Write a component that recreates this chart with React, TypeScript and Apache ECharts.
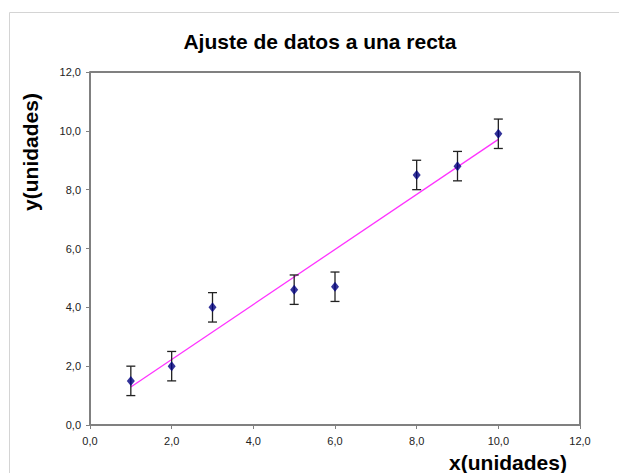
import React, { useEffect, useRef } from "react";
import * as echarts from "echarts";

const xValues = [1, 2, 3, 5, 6, 8, 9, 10];
const yValues = [1.5, 2.0, 4.0, 4.6, 4.7, 8.5, 8.8, 9.9];
const yErrors = [0.5, 0.5, 0.5, 0.5, 0.5, 0.5, 0.5, 0.5];
const fitLine = [
  [1, 1.29],
  [10, 9.71],
];
const titleText = "Ajuste de datos a una recta";
const xLabel = "x(unidades)";
const yLabel = "y(unidades)";

const FONT = "'Liberation Sans', Arial, sans-serif";
const fmt = (v: number) => v.toFixed(1).replace(".", ",");

export default function App() {
  const ref = useRef<HTMLDivElement>(null);
  useEffect(() => {
    if (!ref.current) return;
    const chart = echarts.init(ref.current, null, { renderer: "svg" });
    const points = xValues.map((x, i) => [x, yValues[i]]);
    const errData = xValues.map((x, i) => [x, yValues[i] - yErrors[i], yValues[i] + yErrors[i]]);
    chart.setOption({
      animation: false,
      backgroundColor: "#ffffff",
      grid: { left: 90, right: 39, top: 72, bottom: 48 },
      graphic: [
        {
          type: "rect",
          shape: { x: 9.5, y: 12.5, width: 640, height: 500 },
          style: { fill: "none", stroke: "#d4d4d4", lineWidth: 1 },
          silent: true,
          z: -1,
        },
        {
          type: "text",
          x: 320,
          y: 41,
          style: {
            text: titleText,
            font: `bold 21px ${FONT}`,
            fill: "#000",
            align: "center",
            verticalAlign: "middle",
          },
        },
        {
          type: "text",
          x: 30,
          y: 152,
          rotation: Math.PI / 2,
          style: {
            text: yLabel,
            font: `bold 21px ${FONT}`,
            fill: "#000",
            align: "center",
            verticalAlign: "middle",
          },
        },
        {
          type: "text",
          x: 508,
          y: 462,
          style: {
            text: xLabel,
            font: `bold 21px ${FONT}`,
            fill: "#000",
            align: "center",
            verticalAlign: "middle",
          },
        },
      ],
      xAxis: {
        type: "value",
        min: 0,
        max: 12,
        interval: 2,
        axisLine: { show: true, onZero: false, lineStyle: { color: "#808080", width: 2 } },
        axisTick: { show: true, length: 4, lineStyle: { color: "#808080" } },
        axisLabel: { formatter: fmt, color: "#222", fontSize: 11, fontFamily: FONT, margin: 10 },
        splitLine: { show: false },
      },
      yAxis: {
        type: "value",
        min: 0,
        max: 12,
        interval: 2,
        axisLine: { show: true, onZero: false, lineStyle: { color: "#808080", width: 2 } },
        axisTick: { show: true, length: 4, lineStyle: { color: "#808080" } },
        axisLabel: { formatter: fmt, color: "#222", fontSize: 11, fontFamily: FONT, margin: 9 },
        splitLine: { show: false },
      },
      series: [
        {
          type: "custom",
          data: [[0, 12, 12, 12], [12, 0, 12, 12]],
          renderItem: (params: any, api: any) => {
            const a = api.coord([api.value(0), api.value(1)]);
            const b = api.coord([api.value(2), api.value(3)]);
            return {
              type: "line",
              shape: { x1: a[0], y1: a[1], x2: b[0], y2: b[1] },
              style: { stroke: "#808080", lineWidth: 2 },
            };
          },
          silent: true,
          z: 1,
        },
        {
          type: "line",
          data: fitLine,
          symbol: "none",
          lineStyle: { color: "#ff33ff", width: 1.3 },
          z: 2,
        },
        {
          type: "custom",
          data: errData,
          renderItem: (params: any, api: any) => {
            const x = api.value(0);
            const lo = api.coord([x, api.value(1)]);
            const hi = api.coord([x, api.value(2)]);
            const w = 4.5;
            const st = { stroke: "#222", lineWidth: 1.3 };
            return {
              type: "group",
              children: [
                { type: "line", shape: { x1: lo[0], y1: lo[1], x2: hi[0], y2: hi[1] }, style: st },
                { type: "line", shape: { x1: lo[0] - w, y1: lo[1], x2: lo[0] + w, y2: lo[1] }, style: st },
                { type: "line", shape: { x1: hi[0] - w, y1: hi[1], x2: hi[0] + w, y2: hi[1] }, style: st },
              ],
            };
          },
          z: 3,
        },
        {
          type: "scatter",
          data: points,
          symbol: "diamond",
          symbolSize: [8, 10],
          itemStyle: { color: "#000080" },
          z: 4,
        },
      ],
    });
    return () => chart.dispose();
  }, []);
  return <div ref={ref} style={{ width: 619, height: 473, position: "absolute", left: 0, top: 0 }} />;
}
